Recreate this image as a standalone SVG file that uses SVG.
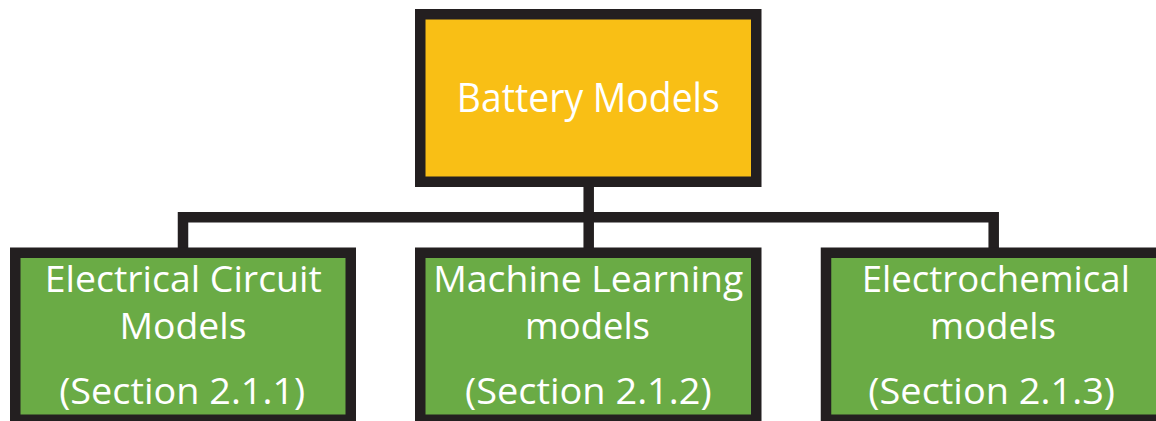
<svg xmlns="http://www.w3.org/2000/svg" width="1156" height="421" viewBox="0 0 1156 421">
<style>
.box{stroke:#231F20;stroke-width:10.5;}
.top{fill:#F9BF15;}
.leaf{fill:#6AAB45;}
.conn{fill:none;stroke:#231F20;stroke-width:10.5;stroke-linejoin:miter;}
text{font-family:"Open Sans","Lato","Liberation Sans",sans-serif;fill:#FFFFFF;text-anchor:middle;}
.t1{font-size:40px;}
.t2{font-size:37px;}
</style>
<rect width="1156" height="421" fill="#FFFFFF"/>
<g id="connectors">
<path class="conn" d="M183,252 V217.3 H993.7 V252"/>
<path class="conn" d="M588.7,184 V252"/>
</g>
<g id="node-battery-models">
<rect class="box top" x="420.25" y="14.25" width="336" height="167.5"/>
<text class="t1" x="588.3" y="111.7" textLength="263" lengthAdjust="spacingAndGlyphs">Battery Models</text>
</g>
<g id="node-ecm">
<rect class="box leaf" x="15.25" y="252.75" width="335.5" height="167"/>
<text class="t2" x="183.3" y="291.7" textLength="277" lengthAdjust="spacingAndGlyphs">Electrical Circuit</text>
<text class="t2" x="183" y="339.3" textLength="127" lengthAdjust="spacingAndGlyphs">Models</text>
<text class="t2" x="182.2" y="404" textLength="246" lengthAdjust="spacingAndGlyphs">(Section 2.1.1)</text>
</g>
<g id="node-ml">
<rect class="box leaf" x="420.25" y="252.75" width="336" height="167"/>
<text class="t2" x="588.3" y="291.7" textLength="310" lengthAdjust="spacingAndGlyphs">Machine Learning</text>
<text class="t2" x="587.5" y="339.3" textLength="125" lengthAdjust="spacingAndGlyphs">models</text>
<text class="t2" x="588.3" y="404" textLength="246.7" lengthAdjust="spacingAndGlyphs">(Section 2.1.2)</text>
</g>
<g id="node-electrochemical">
<rect class="box leaf" x="826" y="252.75" width="336" height="167"/>
<text class="t2" x="995.8" y="291.7" textLength="268.3" lengthAdjust="spacingAndGlyphs">Electrochemical</text>
<text class="t2" x="993" y="339.3" textLength="126" lengthAdjust="spacingAndGlyphs">models</text>
<text class="t2" x="991.7" y="404" textLength="246.7" lengthAdjust="spacingAndGlyphs">(Section 2.1.3)</text>
</g>
</svg>
